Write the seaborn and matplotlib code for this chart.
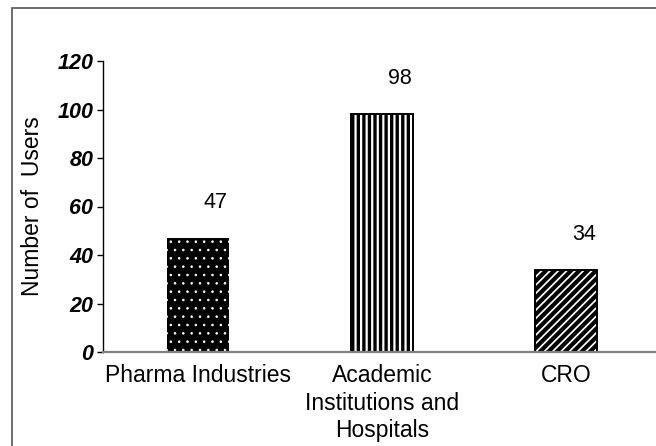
import matplotlib
matplotlib.use("Agg")
import matplotlib.pyplot as plt
import seaborn as sns
from matplotlib.patches import Rectangle

# Datos
categorias = ["Pharma Industries", "Academic\nInstitutions and\nHospitals", "CRO"]
usuarios = [47, 98, 34]
y_ticks = [0, 20, 40, 60, 80, 100, 120]

# Estilo visual
sns.set_theme(style="white")
plt.rcParams["font.family"] = ["Liberation Sans", "DejaVu Sans"]
plt.rcParams["text.color"] = "black"
plt.rcParams["axes.labelcolor"] = "black"
plt.rcParams["xtick.color"] = "black"
plt.rcParams["ytick.color"] = "black"
plt.rcParams["hatch.linewidth"] = 2.2

fig = plt.figure(figsize=(6.56, 4.46), dpi=100)
ax = fig.add_axes([103 / 656, 94 / 446, 552 / 656, 291 / 446])

sns.barplot(x=categorias, y=usuarios, color="white", width=0.34, ax=ax)

# Patrones de relleno por barra
estilos = [
    dict(facecolor="black", edgecolor="white", hatch="..", linewidth=0, hlw=0.6),
    dict(facecolor="white", edgecolor="black", hatch="|||", linewidth=1.4, hlw=2.4),
    dict(facecolor="white", edgecolor="black", hatch="////", linewidth=1.4, hlw=3.0),
]
for p, est in zip(ax.patches, estilos):
    p.set_facecolor(est["facecolor"])
    p.set_edgecolor(est["edgecolor"])
    p.set_hatch(est["hatch"])
    p.set_linewidth(est["linewidth"])
    if hasattr(p, "set_hatch_linewidth"):
        p.set_hatch_linewidth(est["hlw"])

# Etiquetas de valor
for i, v in enumerate(usuarios):
    ax.annotate(f"{v}", (i, v), xytext=(13, 18), textcoords="offset points",
                ha="center", va="bottom", fontsize=15.5)

ax.set_xlim(-0.516, 2.484)
ax.set_ylim(0, 120)
ax.set_yticks(y_ticks)
ax.set_yticklabels([str(t) for t in y_ticks], fontsize=15.5, fontweight="bold", fontstyle="italic")
ax.tick_params(axis="y", left=True, length=4, width=1, color="black", pad=3)
ax.tick_params(axis="x", bottom=False, length=0, pad=9, labelsize=16.5)
for lbl in ax.get_xticklabels():
    lbl.set_linespacing(1.25)
ax.set_ylabel("Number of  Users", fontsize=16.5)
ax.yaxis.set_label_coords(-0.106, 0.5)
ax.set_xlabel("")

for s in ["top", "right"]:
    ax.spines[s].set_visible(False)
ax.spines["left"].set_color("black")
ax.spines["left"].set_linewidth(1)
ax.spines["bottom"].set_color("#808080")
ax.spines["bottom"].set_linewidth(1.6)

# Marco exterior
fig.patches.append(Rectangle((12 / 656, -0.1), 1.0, (446 - 8) / 446 + 0.1,
                             transform=fig.transFigure, fill=False,
                             edgecolor="#555555", linewidth=1.2))

fig.savefig("out.png", dpi=100)
